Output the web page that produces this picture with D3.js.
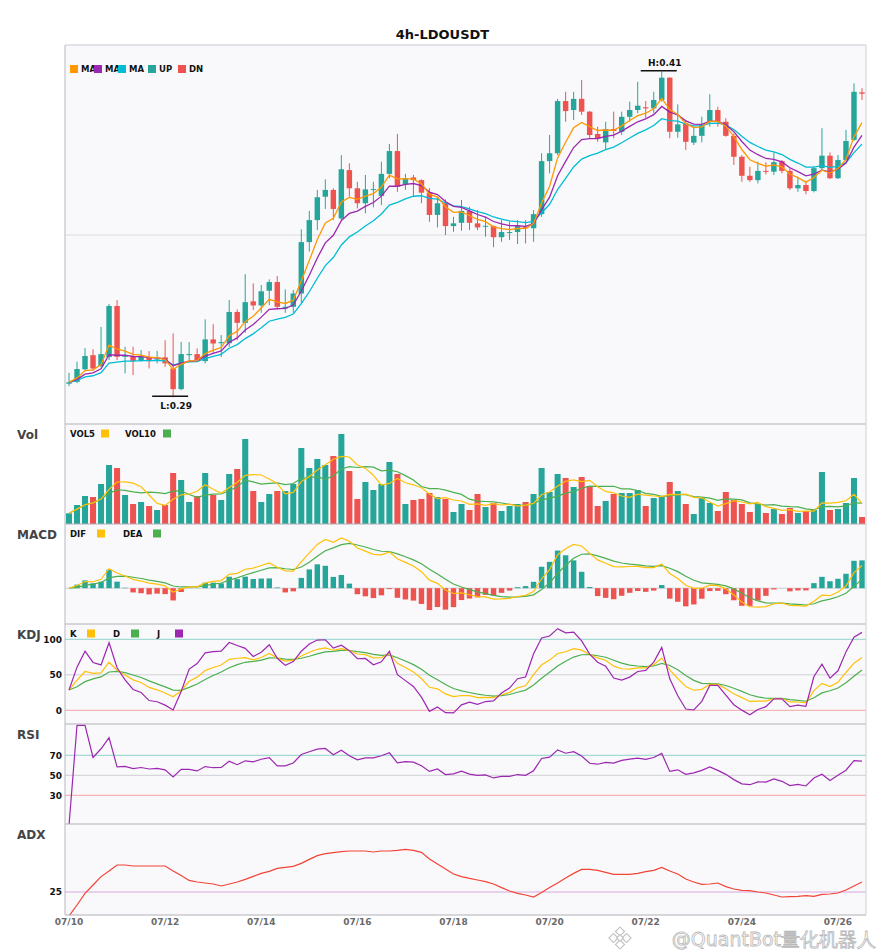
<!DOCTYPE html>
<html lang="en">
<head>
<meta charset="UTF-8">
<title>4h-LDOUSDT</title>
<style>
body { margin: 0; background: #fff; }
text { font-family: "DejaVu Sans", sans-serif; }
</style>
</head>
<body>
<div id="chart"></div>
<script src="https://cdnjs.cloudflare.com/ajax/libs/d3/7.8.5/d3.min.js"></script>
<script>

// ---- data (4h candles, 07/10 00:00 onwards) ----
const open = [0.2953,0.2960,0.3006,0.3058,0.3018,0.3051,0.3239,0.3052,0.3055,0.3037,
  0.3048,0.3042,0.3050,0.3009,0.2933,0.3058,0.3062,0.3036,0.3116,0.3102,
  0.3102,0.3217,0.3177,0.3256,0.3241,0.3295,0.3327,0.3230,0.3236,0.3285,
  0.3474,0.3555,0.3641,0.3666,0.3561,0.3739,0.3672,0.3617,0.3667,0.3644,
  0.3725,0.3809,0.3687,0.3712,0.3702,0.3656,0.3574,0.3617,0.3533,0.3545,
  0.3589,0.3543,0.3531,0.3533,0.3492,0.3509,0.3511,0.3530,0.3525,0.3577,
  0.3772,0.3801,0.3993,0.3960,0.4001,0.3954,0.3872,0.3841,0.3890,0.3880,
  0.3935,0.3960,0.3970,0.3966,0.3997,0.4079,0.3880,0.3911,0.3840,0.3865,
  0.3917,0.3960,0.3917,0.3865,0.3788,0.3718,0.3702,0.3736,0.3733,0.3772,
  0.3736,0.3672,0.3684,0.3662,0.3746,0.3792,0.3709,0.3776,0.3850,0.4025];
const high = [0.2993,0.3034,0.3084,0.3080,0.3162,0.3246,0.3261,0.3089,0.3089,0.3077,
  0.3073,0.3074,0.3113,0.3138,0.3107,0.3106,0.3083,0.3190,0.3172,0.3132,
  0.3261,0.3226,0.3356,0.3322,0.3316,0.3337,0.3349,0.3300,0.3298,0.3521,
  0.3589,0.3666,0.3705,0.3672,0.3794,0.3764,0.3696,0.3721,0.3696,0.3770,
  0.3835,0.3872,0.3725,0.3721,0.3705,0.3672,0.3641,0.3631,0.3567,0.3629,
  0.3604,0.3592,0.3567,0.3535,0.3555,0.3549,0.3555,0.3555,0.3592,0.3801,
  0.3868,0.4001,0.4027,0.4027,0.4070,0.3956,0.3899,0.3917,0.3954,0.3954,
  0.3991,0.4064,0.3993,0.4027,0.4101,0.4080,0.3981,0.3923,0.3899,0.3935,
  0.4018,0.3972,0.3930,0.3874,0.3794,0.3751,0.3770,0.3768,0.3804,0.3776,
  0.3746,0.3715,0.3699,0.3751,0.3893,0.3804,0.3794,0.3887,0.4058,0.4040];
const low = [0.2944,0.2955,0.3003,0.3000,0.3013,0.3040,0.3040,0.2991,0.2985,0.3034,
  0.3009,0.3028,0.3015,0.2903,0.2929,0.3035,0.3034,0.3028,0.3062,0.3051,
  0.3089,0.3113,0.3140,0.3224,0.3214,0.3242,0.3230,0.3214,0.3214,0.3249,
  0.3439,0.3518,0.3596,0.3555,0.3555,0.3641,0.3598,0.3580,0.3602,0.3610,
  0.3709,0.3659,0.3666,0.3641,0.3617,0.3549,0.3528,0.3500,0.3512,0.3516,
  0.3518,0.3518,0.3494,0.3455,0.3475,0.3482,0.3467,0.3469,0.3475,0.3567,
  0.3727,0.3794,0.3917,0.3923,0.3942,0.3856,0.3843,0.3813,0.3856,0.3868,
  0.3917,0.3948,0.3930,0.3948,0.3991,0.3856,0.3858,0.3813,0.3831,0.3841,
  0.3899,0.3899,0.3862,0.3758,0.3696,0.3696,0.3690,0.3723,0.3721,0.3727,
  0.3666,0.3659,0.3650,0.3657,0.3739,0.3706,0.3706,0.3772,0.3846,0.3997];
const close = [0.2958,0.3007,0.3055,0.3009,0.3062,0.3239,0.3052,0.3058,0.3037,0.3052,
  0.3036,0.3046,0.3028,0.2933,0.3062,0.3062,0.3040,0.3116,0.3101,0.3106,
  0.3217,0.3177,0.3253,0.3241,0.3293,0.3327,0.3236,0.3236,0.3285,0.3474,
  0.3555,0.3639,0.3666,0.3596,0.3742,0.3672,0.3617,0.3668,0.3669,0.3725,
  0.3809,0.3678,0.3709,0.3702,0.3656,0.3574,0.3617,0.3533,0.3543,0.3589,
  0.3545,0.3528,0.3534,0.3492,0.3511,0.3511,0.3533,0.3525,0.3577,0.3772,
  0.3801,0.3993,0.3956,0.4001,0.3954,0.3868,0.3856,0.3890,0.3883,0.3935,
  0.3960,0.3976,0.3966,0.3997,0.4079,0.3880,0.3907,0.3843,0.3865,0.3905,
  0.3960,0.3917,0.3865,0.3788,0.3718,0.3702,0.3736,0.3733,0.3768,0.3736,
  0.3672,0.3684,0.3662,0.3746,0.3792,0.3709,0.3776,0.3846,0.4027,0.4020];
const volume = [107,190,280,270,400,590,560,290,200,220,
  180,140,190,510,440,220,280,510,290,240,
  500,550,850,330,220,300,330,330,400,760,
  560,650,590,680,900,530,250,420,340,400,
  620,500,200,240,250,310,270,250,120,200,
  140,300,170,210,130,180,200,220,300,560,
  320,500,460,370,470,380,180,230,300,310,
  310,340,180,260,280,420,330,200,100,260,
  210,130,320,240,200,120,200,110,150,100,
  160,110,130,140,520,140,150,210,460,70];
const adx = [13.0,18.5,24.3,28.5,32.7,35.5,38.5,38.5,38.0,38.0,
  38.0,38.0,38.0,35.5,33.2,30.8,30.0,29.5,29.0,28.0,
  29.0,30.0,31.3,32.8,34.3,35.3,36.8,37.3,37.8,39.3,
  41.3,43.2,44.2,44.7,45.2,45.5,45.5,45.5,45.0,45.5,
  45.5,45.8,46.3,45.8,44.8,41.5,39.0,36.5,34.0,32.7,
  31.8,31.0,30.2,29.0,27.2,25.5,24.3,23.5,22.5,24.7,
  27.2,29.5,32.0,34.3,36.3,36.3,35.8,34.8,33.8,33.8,
  33.8,34.3,35.2,35.8,37.3,35.5,34.0,31.5,30.0,28.8,
  29.0,29.5,27.7,26.5,25.8,25.7,25.0,24.5,23.5,22.5,
  22.7,22.8,23.2,22.8,23.8,24.0,24.5,26.0,28.0,30.0];
const tickLabels = ["07/10","07/12","07/14","07/16","07/18","07/20","07/22","07/24","07/26"];
const priceGrid = [0.35];
const maPeriods = [5, 8, 13];
const macdParams = [6, 13, 5];

// ---- layout ----
const W = 885, H = 950, L = 65, R = 866;
const panes = { main: [45, 424], vol: [424, 524], macd: [524, 624], kdj: [624, 724], rsi: [724, 824], adx: [824, 915] };
const UP = '#26a69a', DN = '#ef5350';
const N = close.length, idx = d3.range(N);
const col = i => close[i] >= open[i] ? UP : DN;

// ---- indicators ----
const sma = (arr, n) => arr.map((v, i) => d3.mean(arr.slice(Math.max(0, i - n + 1), i + 1)));
const ema = (arr, n) => { const k = 2 / (n + 1); let p; return arr.map((v, i) => p = i === 0 ? v : p + k * (v - p)); };
const [maA, maB, maC] = maPeriods.map(n => ema(close, n));
const vol5 = sma(volume, 5), vol10 = sma(volume, 10);
const eFast = ema(close, macdParams[0]), eSlow = ema(close, macdParams[1]);
const dif = close.map((c, i) => eFast[i] - eSlow[i]);
const dea = ema(dif, macdParams[2]);
const hist = dif.map((d, i) => 2 * (d - dea[i]));
let pk, pd;
const K = [], D = [], J = [];
close.forEach((c, i) => {
  const lo = d3.min(low.slice(Math.max(0, i - 8), i + 1)), hi = d3.max(high.slice(Math.max(0, i - 8), i + 1));
  const rsv = hi === lo ? 50 : (c - lo) / (hi - lo) * 100;
  if (i === 0) { pk = rsv; pd = rsv; }
  pk = 2 / 3 * pk + rsv / 3; pd = 2 / 3 * pd + pk / 3;
  K.push(pk); D.push(pd); J.push(3 * pk - 2 * pd);
});
let ag = 0, al = 0;
const rsi = close.map((c, i) => {
  if (i === 0) return 0;
  const ch = c - close[i - 1], n = Math.min(i, 14);
  ag += (Math.max(ch, 0) - ag) / n; al += (Math.max(-ch, 0) - al) / n;
  return ag + al === 0 ? 50 : 100 * ag / (ag + al);
});

// ---- scales ----
const x = d3.scaleBand().domain(idx).range([L, R]).paddingInner(0.32).paddingOuter(0.16);
const xc = i => x(i) + x.bandwidth() / 2;
const pLo = d3.min(low), pHi = d3.max(high), pPad = (pHi - pLo) * 0.082;
const yP = d3.scaleLinear().domain([pLo - pPad, pHi + pPad]).range([424, 45]);
const yV = d3.scaleLinear().domain([0, 1000]).range([524, 424]);
const mExt = d3.extent(dif.concat(dea, hist));
const yM = d3.scaleLinear().domain(mExt).range([610, 538]);
const yK = d3.scaleLinear().domain([0, 100]).range([710.3, 639.3]);
const yR = d3.scaleLinear().domain([0, 100]).range([825.3, 725.3]);
const yA = d3.scaleLinear().domain([12, 58]).range([918, 826]);

const svg = d3.select('#chart').append('svg').attr('width', W).attr('height', H);
svg.append('rect').attr('width', W).attr('height', H).attr('fill', '#fff');
const defs = svg.append('defs');

Object.entries(panes).forEach(([k, [t, b]]) => {
  svg.append('rect').attr('x', L).attr('y', t).attr('width', R - L).attr('height', b - t).attr('fill', '#f9f9fb');
  defs.append('clipPath').attr('id', 'clip-' + k).append('rect')
    .attr('x', L).attr('y', t).attr('width', R - L).attr('height', b - t);
});

const pane = k => svg.append('g').attr('clip-path', 'url(#clip-' + k + ')');
const lineOf = (arr, y) => d3.line().x((d, i) => xc(i)).y(d => y(d))(arr);
const hline = (g, y, c) => g.append('line').attr('x1', L).attr('x2', R).attr('y1', y).attr('y2', y).attr('stroke', c).attr('stroke-width', 1);

// ---- main candles ----
const gMain = pane('main');
priceGrid.forEach(v => hline(gMain, yP(v), '#dcdce0'));
gMain.selectAll('line.wick').data(idx).join('line').attr('class', 'wick')
  .attr('x1', xc).attr('x2', xc).attr('y1', i => yP(high[i])).attr('y2', i => yP(low[i]))
  .attr('stroke', col).attr('stroke-width', 1);
gMain.selectAll('rect.body').data(idx).join('rect').attr('class', 'body')
  .attr('x', i => x(i)).attr('width', x.bandwidth())
  .attr('y', i => yP(Math.max(open[i], close[i])))
  .attr('height', i => Math.max(1, Math.abs(yP(open[i]) - yP(close[i]))))
  .attr('fill', col);
[[maC, '#00bcd4'], [maB, '#9c27b0'], [maA, '#ff9800']].forEach(([s, c]) => {
  gMain.append('path').attr('d', lineOf(s, yP)).attr('fill', 'none').attr('stroke', c).attr('stroke-width', 1.3);
});

// high / low markers
const iH = d3.maxIndex(high), iL = d3.minIndex(low);
[[iH, high[iH], -6, 'H:'], [iL, low[iL], 12, 'L:']].forEach(([i, v, dy, s]) => {
  svg.append('line').attr('x1', xc(i) - 21).attr('x2', xc(i) + 15).attr('y1', yP(v) - 1).attr('y2', yP(v) - 1)
    .attr('stroke', '#111').attr('stroke-width', 1.5);
  svg.append('text').attr('x', xc(i) + 3).attr('y', yP(v) + dy).attr('text-anchor', 'middle')
    .attr('font-size', 9).attr('font-weight', 'bold').attr('fill', '#111').text(s + v.toFixed(2));
});

// ---- volume ----
const gVol = pane('vol');
gVol.selectAll('rect').data(idx).join('rect')
  .attr('x', i => x(i) - 0.3).attr('width', x.bandwidth() + 0.6)
  .attr('y', i => yV(volume[i])).attr('height', i => yV(0) - yV(volume[i])).attr('fill', col);
[[vol10, '#4caf50'], [vol5, '#ffc107']].forEach(([s, c]) => {
  gVol.append('path').attr('d', lineOf(s, yV)).attr('fill', 'none').attr('stroke', c).attr('stroke-width', 1.2);
});

// ---- MACD ----
const gM = pane('macd');
hline(gM, yM(0), '#cfcfd4');
gM.selectAll('rect').data(idx).join('rect')
  .attr('x', i => x(i)).attr('width', x.bandwidth())
  .attr('y', i => Math.min(yM(0), yM(hist[i]))).attr('height', i => Math.abs(yM(hist[i]) - yM(0)))
  .attr('fill', i => hist[i] >= 0 ? UP : DN);
[[dea, '#4caf50'], [dif, '#ffc107']].forEach(([s, c]) => {
  gM.append('path').attr('d', lineOf(s, yM)).attr('fill', 'none').attr('stroke', c).attr('stroke-width', 1.2);
});

// ---- KDJ ----
const gK = pane('kdj');
hline(gK, yK(100), '#8fd3cb'); hline(gK, yK(50), '#cfcfd4'); hline(gK, yK(0), '#f2a5a5');
[[D, '#4caf50'], [K, '#ffc107'], [J, '#9c27b0']].forEach(([s, c]) => {
  gK.append('path').attr('d', lineOf(s, yK)).attr('fill', 'none').attr('stroke', c).attr('stroke-width', 1.2);
});

// ---- RSI ----
const gR = pane('rsi');
hline(gR, yR(70), '#8fd3cb'); hline(gR, yR(50), '#cfcfd4'); hline(gR, yR(30), '#f2a5a5');
gR.append('path').attr('d', lineOf(rsi, yR)).attr('fill', 'none').attr('stroke', '#9c27b0').attr('stroke-width', 1.2);

// ---- ADX ----
const gA = pane('adx');
hline(gA, yA(25), '#d8a8e0');
gA.append('path').attr('d', lineOf(adx, yA)).attr('fill', 'none').attr('stroke', '#f44336').attr('stroke-width', 1.2);

// ---- frames ----
const fr = svg.append('g');
fr.append('line').attr('x1', L).attr('x2', R).attr('y1', 45).attr('y2', 45).attr('stroke', '#c8c8d0');
[424, 524, 624, 724, 824, 915].forEach(y => fr.append('line').attr('x1', L).attr('x2', R).attr('y1', y).attr('y2', y).attr('stroke', '#b0b0b8'));
fr.append('line').attr('x1', L).attr('x2', L).attr('y1', 45).attr('y2', 915).attr('stroke', '#b8b8c0');
fr.append('line').attr('x1', R).attr('x2', R).attr('y1', 45).attr('y2', 915).attr('stroke', '#d0d0d6');

// ---- text ----
svg.append('text').attr('x', W / 2).attr('y', 39).attr('text-anchor', 'middle')
  .attr('font-size', 13).attr('font-weight', 'bold').attr('fill', '#111').text('4h-LDOUSDT');

const paneLabels = [['Vol', 439], ['MACD', 539], ['KDJ', 639], ['RSI', 739], ['ADX', 839]];
paneLabels.forEach(([t, y]) => svg.append('text').attr('x', 17).attr('y', y)
  .attr('font-size', 12).attr('font-weight', 'bold').attr('fill', '#444').text(t));

const yTicks = [[yK, [100, 50, 0]], [yR, [70, 50, 30]], [yA, [25]]];
yTicks.forEach(([s, vals]) => vals.forEach(v => svg.append('text').attr('x', 62).attr('y', s(v) + 3.3)
  .attr('text-anchor', 'end').attr('font-size', 9).attr('font-weight', 'bold').attr('fill', '#111').text(v)));

tickLabels.forEach((t, k) => svg.append('text').attr('x', xc(k * 12)).attr('y', 924.5)
  .attr('text-anchor', 'middle').attr('font-size', 9).attr('font-weight', 'bold').attr('fill', '#6a6a6a').text(t));

// main legend: square then text, next square overlaps
const mainLegend = [['MA' + maPeriods[0], '#ff9800', 70], ['MA' + maPeriods[1], '#9c27b0', 94],
  ['MA' + maPeriods[2], '#00bcd4', 118], ['UP', UP, 148], ['DN', DN, 178]];
mainLegend.forEach(([t, c, lx], k) => {
  const stop = k < mainLegend.length - 1 ? Math.min(mainLegend[k + 1][2], lx + 26.5) : lx + 60;
  defs.append('clipPath').attr('id', 'lg' + k).append('rect').attr('x', lx).attr('y', 55).attr('width', stop - lx).attr('height', 25);
  svg.append('rect').attr('x', lx).attr('y', 65).attr('width', 8).attr('height', 8).attr('fill', c);
  svg.append('text').attr('x', lx + 11).attr('y', 72.2).attr('clip-path', 'url(#lg' + k + ')')
    .attr('font-size', 8.5).attr('font-weight', 'bold').attr('fill', '#111').text(t);
});

// pane legends: text then square
const subLegends = [
  [437, [['VOL5', '#ffc107', 70, 101], ['VOL10', '#4caf50', 125, 163]]],
  [537, [['DIF', '#ffc107', 70, 97], ['DEA', '#4caf50', 123, 153]]],
  [637, [['K', '#ffc107', 70, 87], ['D', '#4caf50', 113, 131], ['J', '#9c27b0', 157, 175]]]
];
subLegends.forEach(([y, items]) => items.forEach(([t, c, tx, sx]) => {
  svg.append('text').attr('x', tx).attr('y', y).attr('font-size', 8.5).attr('font-weight', 'bold').attr('fill', '#111').text(t);
  svg.append('rect').attr('x', sx).attr('y', y - 7.5).attr('width', 8).attr('height', 8).attr('fill', c);
}));

// watermark (kept just under the date labels)
const wm = svg.append('g').attr('opacity', 0.8);
const logo = wm.append('g').attr('transform', 'translate(620,938)').attr('fill', '#fff').attr('stroke', '#b4b4b4').attr('stroke-width', 1.2);
[[0, -6.5, 3.2], [-6.5, 0, 3.2], [6.5, 0, 3.2], [0, 6.5, 3.2], [0, 0, 2.3]].forEach(([dx, dy, s]) => {
  logo.append('rect').attr('x', dx - s).attr('y', dy - s).attr('width', 2 * s).attr('height', 2 * s)
    .attr('transform', `rotate(45 ${dx} ${dy})`);
});
wm.append('text').attr('x', 876).attr('y', 946).attr('text-anchor', 'end')
  .attr('font-family', '"Noto Sans CJK SC", sans-serif').attr('font-size', 19)
  .attr('fill', '#fff').attr('stroke', '#a8a8a8').attr('stroke-width', 0.8)
  .text('@QuantBot量化机器人');
</script>
</body>
</html>
